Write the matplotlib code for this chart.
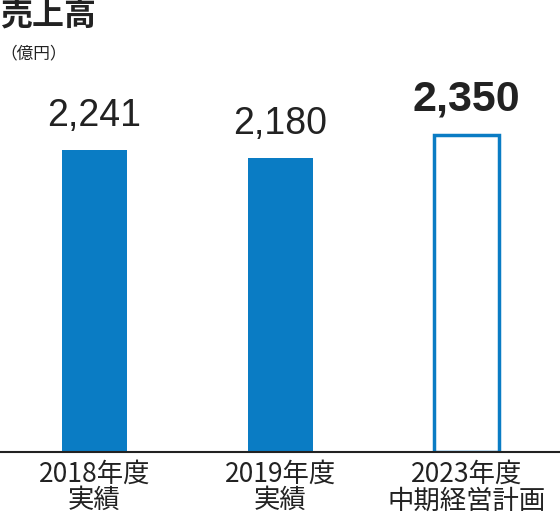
import matplotlib
matplotlib.use("Agg")
import matplotlib.pyplot as plt

categories = ["2018年度\n実績", "2019年度\n実績", "2023年度\n中期経営計画"]
values = [2241, 2180, 2350]
labels = ["2,241", "2,180", "2,350"]

plt.rcParams['font.family'] = ['Noto Sans CJK JP', 'DejaVu Sans']
blue = "#0a7cc4"

fig = plt.figure(figsize=(5.6, 5.3), dpi=100)
ax = fig.add_axes([0, 78/530, 1, 452/530])
ax.set_ylim(0, 3353)
ax.set_xlim(-0.508, 2.503)
pos = range(len(values))
w = 0.35
ax.bar([0, 1], values[:2], width=w, color=blue)
ax.bar([2], values[2:], width=w, facecolor="white", edgecolor=blue, linewidth=2.5)
for i, (v, l) in enumerate(zip(values, labels)):
    bold = i == 2
    ax.text(i, v + 120, l, ha="center", va="bottom", fontsize=27 if not bold else 31,
            fontweight="bold" if bold else "normal", color="#222", family=['Liberation Sans'])
for s in ["top", "right", "left"]:
    ax.spines[s].set_visible(False)
ax.spines["bottom"].set_linewidth(1.5)
ax.spines["bottom"].set_color("#222")
ax.set_yticks([])
ax.set_xticks(list(pos))
ax.set_xticklabels(categories, fontsize=19, linespacing=1.0, color="#222")
ax.tick_params(axis="x", length=0, pad=6)
fig.text(0.0, 1.0, "売上高", fontsize=23, fontweight="bold", va="top", ha="left", color="#222")
fig.text(0.0, 0.915, "（億円）", fontsize=12, va="top", ha="left", color="#222")
fig.savefig("out.png", dpi=100)
